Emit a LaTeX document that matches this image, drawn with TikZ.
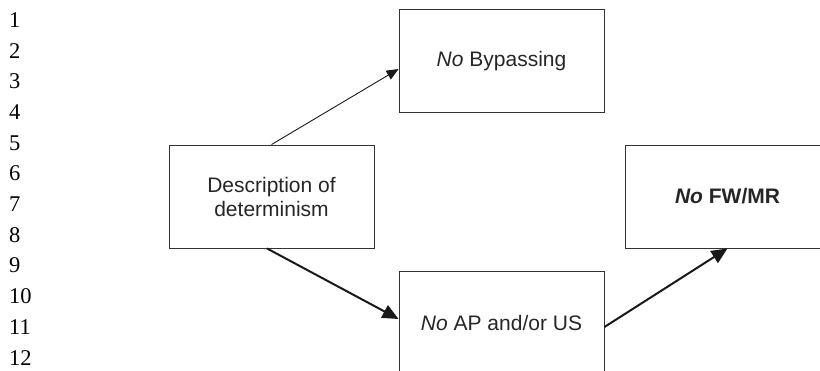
\documentclass[tikz,border=0pt]{standalone}
\usepackage{fontspec}
\setmainfont{Liberation Sans}
\newfontfamily\numfont{Liberation Serif}
\usetikzlibrary{arrows.meta}
\usetikzlibrary{positioning}

\tikzset{
  box/.style={rectangle,draw=black!80,line width=0.9pt,fill=white,
    minimum width=205pt,minimum height=103pt,inner sep=0pt,
    align=center,text=black!85,font=\fontsize{21}{24}\selectfont},
  lnum/.style={anchor=west,inner sep=0pt,text=black,
    font=\numfont\fontsize{22.5}{22.5}\selectfont},
  thinlink/.style={draw=black!90,line width=0.9pt,
    -{Triangle[length=12pt,width=10pt,black!90]}},
  thicklink/.style={draw=black!90,line width=2pt,
    -{Triangle[length=16pt,width=14pt,black!90]}}
}

\begin{document}
\begin{tikzpicture}[x=1pt,y=-1pt]
\clip (0,0) rectangle (820,371);

% line numbers
\foreach \i in {1,...,12}
  \node[lnum] (n\i) at (9,{20+30.7*(\i-1)}) {\i};

% Description
\node[box] (desc) at (271.5,196.5) {Description of\\determinism};
% Bypassing
\node[box] (bypass) at (501.5,61) {\textit{No} Bypassing};
% AP
\node[box] (ap) at (501.5,322.5) {\textit{No} AP and/or US};
% FW/MR
\node[box] (fwmr) at (727.5,196.5) {\textbf{\textit{No} FW/MR}};

\draw[thinlink] (desc.north) -- ([yshift=-8pt]bypass.west);
\draw[thicklink] ([xshift=-4.5pt]desc.south) -- ([yshift=3.5pt]ap.west);
\draw[thicklink] ([yshift=-4.5pt]ap.east) -- (fwmr.south);
\end{tikzpicture}
\end{document}
